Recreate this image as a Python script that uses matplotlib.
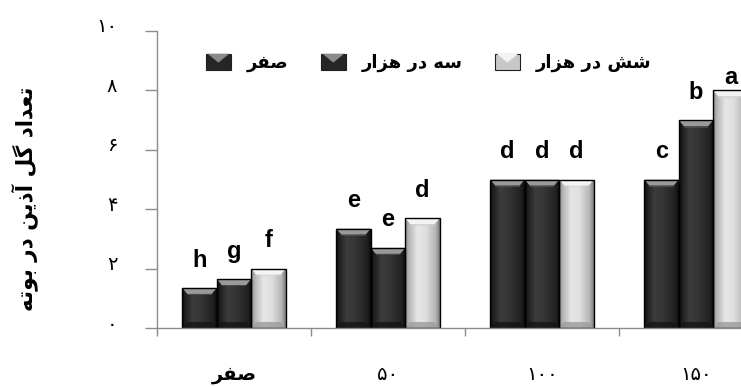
import matplotlib
matplotlib.use("Agg")
import matplotlib.pyplot as plt
import matplotlib.transforms as mtransforms
import numpy as np
from matplotlib.patches import Polygon, Patch, Rectangle
from matplotlib.legend_handler import HandlerPatch

# ---- data -------------------------------------------------------------
groups = ["صفر", "۵۰", "۱۰۰", "۱۵۰"]
series_names = ["صفر", "سه در هزار", "شش در هزار"]
values_zero = [1.35, 3.35, 5.0, 5.0]
values_three = [1.65, 2.7, 5.0, 7.0]
values_six = [2.0, 3.7, 5.0, 8.0]
letters_zero = ["h", "e", "d", "c"]
letters_three = ["g", "e", "d", "b"]
letters_six = ["f", "d", "d", "a"]
y_ticks = [0, 2, 4, 6, 8, 10]
y_tick_labels = ["۰", "۲", "۴", "۶", "۸", "۱۰"]
y_title = "تعداد گل آذین در بوته"

# ---- simple Persian shaping (presentation forms + visual order) ---------
FORMS = {  # iso, fin, ini, med  (right-joining letters only iso, fin)
    "ص": "\uFEB9\uFEBA\uFEBB\uFEBC", "ف": "\uFED1\uFED2\uFED3\uFED4",
    "س": "\uFEB1\uFEB2\uFEB3\uFEB4", "ه": "\uFEE9\uFEEA\uFEEB\uFEEC",
    "ش": "\uFEB5\uFEB6\uFEB7\uFEB8", "ت": "\uFE95\uFE96\uFE97\uFE98",
    "ع": "\uFEC9\uFECA\uFECB\uFECC", "گ": "\uFB92\uFB93\uFB94\uFB95",
    "ل": "\uFEDD\uFEDE\uFEDF\uFEE0", "ی": "\uFBFC\uFBFD\uFBFE\uFBFF",
    "ن": "\uFEE5\uFEE6\uFEE7\uFEE8", "ب": "\uFE8F\uFE90\uFE91\uFE92",
    "ر": "\uFEAD\uFEAE", "د": "\uFEA9\uFEAA", "ز": "\uFEAF\uFEB0",
    "ا": "\uFE8D\uFE8E", "آ": "\uFE81\uFE82", "ذ": "\uFEAB\uFEAC",
    "و": "\uFEED\uFEEE",
}


def shape(text):
    """Join Persian letters and put them in visual order; digits stay LTR."""
    if not any(ch in FORMS for ch in text):
        return text
    out = []
    for i, ch in enumerate(text):
        f = FORMS.get(ch)
        if f is None:
            out.append(ch)
            continue
        prev = text[i - 1] if i > 0 else ""
        nxt = text[i + 1] if i + 1 < len(text) else ""
        join_prev = prev in FORMS and len(FORMS[prev]) == 4
        join_next = len(f) == 4 and nxt in FORMS
        if join_prev and join_next:
            out.append(f[3])
        elif join_prev:
            out.append(f[1])
        elif join_next:
            out.append(f[2])
        else:
            out.append(f[0])
    return "".join(out)[::-1]


plt.rcParams["font.family"] = ["DejaVu Sans"]

W, H, DPI = 741, 387, 100
fig = plt.figure(figsize=(W / DPI, H / DPI), dpi=DPI)
ax_left, ax_right, ax_bottom, ax_top = 157, 741, 328, 31
ax = fig.add_axes([ax_left / W, (H - ax_bottom) / H,
                   (ax_right - ax_left) / W, (ax_bottom - ax_top) / H])

unit_px = 154.0
ax.set_xlim(-0.5, -0.5 + (ax_right - ax_left) / unit_px)
ax.set_ylim(0, 10)

x = np.arange(len(groups))
bw = 0.224
series = [values_zero, values_three, values_six]
letters = [letters_zero, letters_three, letters_six]

# horizontal shading profiles for the bevelled bars
dark_profile = [(0.0, "#0c0c0c"), (0.08, "#1e1e1e"), (0.3, "#3c3c3c"),
                (0.55, "#353535"), (0.88, "#222222"), (1.0, "#0e0e0e")]
light_profile = [(0.0, "#8a8a8a"), (0.1, "#b4b4b4"), (0.35, "#e6e6e6"),
                 (0.6, "#dedede"), (0.88, "#b6b6b6"), (1.0, "#7e7e7e")]
styles = [
    dict(profile=dark_profile, top="#9a9a9a", top2="#5a5a5a", bottom="#151515"),
    dict(profile=dark_profile, top="#9a9a9a", top2="#5a5a5a", bottom="#151515"),
    dict(profile=light_profile, top="#f4f4f4", top2="#d0d0d0", bottom="#9c9c9c"),
]


def profile_image(profile, n=64):
    pos = np.linspace(0, 1, n)
    stops = [p for p, _ in profile]
    rgb = np.array([matplotlib.colors.to_rgb(c) for _, c in profile])
    img = np.stack([np.interp(pos, stops, rgb[:, k]) for k in range(3)], axis=-1)
    return img[np.newaxis, :, :]


px_x = (ax.get_xlim()[1] - ax.get_xlim()[0]) / (ax_right - ax_left)
px_y = 10.0 / (ax_bottom - ax_top)

for k, (vals, st) in enumerate(zip(series, styles)):
    bars = ax.bar(x + (k - 1) * bw, vals, width=bw, color="none",
                  edgecolor="#000000", linewidth=1.0, zorder=3)
    img = profile_image(st["profile"])
    for rect in bars:
        x0, y0 = rect.get_x(), rect.get_y()
        w, h = rect.get_width(), rect.get_height()
        im = ax.imshow(img, extent=[x0, x0 + w, y0, y0 + h], aspect="auto",
                       interpolation="bilinear", zorder=2)
        im.set_clip_path(rect)
        # top bevel
        bh = 6 * px_y
        ins = 5 * px_x
        ax.add_patch(Polygon([(x0, y0 + h), (x0 + w, y0 + h),
                              (x0 + w - ins, y0 + h - bh), (x0 + ins, y0 + h - bh)],
                             closed=True, facecolor=st["top"], edgecolor="none",
                             zorder=2.5))
        ax.add_patch(Polygon([(x0 + ins, y0 + h - bh), (x0 + w - ins, y0 + h - bh),
                              (x0 + w - ins, y0 + h - bh - 1.5 * px_y),
                              (x0 + ins, y0 + h - bh - 1.5 * px_y)],
                             closed=True, facecolor=st["top2"], edgecolor="none",
                             alpha=0.6, zorder=2.5))
        # bottom bevel
        ax.add_patch(Polygon([(x0, y0), (x0 + w, y0),
                              (x0 + w - ins, y0 + bh), (x0 + ins, y0 + bh)],
                             closed=True, facecolor=st["bottom"], edgecolor="none",
                             alpha=0.8, zorder=2.5))
    for xi, v, lab in zip(x + (k - 1) * bw, vals, letters[k]):
        ax.text(xi, min(v + 0.55, 8.05), lab, ha="center", va="bottom",
                fontsize=17, fontweight="bold", family="Liberation Sans",
                color="#000000", zorder=4)

# ---- axes styling -----------------------------------------------------
for s in ["top", "right"]:
    ax.spines[s].set_visible(False)
for s in ["left", "bottom"]:
    ax.spines[s].set_color("#8c8c8c")
    ax.spines[s].set_linewidth(1.0)
    ax.spines[s].set_zorder(5)

ax.set_yticks(y_ticks)
ax.set_yticklabels(y_tick_labels)
ax.tick_params(axis="y", direction="out", length=8.5, width=1.0,
               color="#8c8c8c", pad=20, labelsize=14)
for lab in ax.get_yticklabels():
    lab.set_transform(lab.get_transform() +
                      mtransforms.ScaledTranslation(0, 6 / 100, fig.dpi_scale_trans))

ax.set_xticks(x)
ax.set_xticklabels([shape(g) for g in groups])
ax.tick_params(axis="x", which="major", length=0, pad=27, labelsize=14)
ax.set_xticks(np.arange(len(groups)) - 0.5, minor=True)
ax.tick_params(axis="x", which="minor", direction="out", length=5.5, width=1.0,
               color="#8c8c8c")
ax.get_xticklabels()[0].set_fontweight("bold")

fig.text(25 / W, 1 - 199 / H, shape(y_title), rotation=90, ha="center",
         va="center", fontsize=15.5, fontweight="bold")


# ---- legend -------------------------------------------------------------
class BevelHandler(HandlerPatch):
    def create_artists(self, legend, orig_handle, xdescent, ydescent,
                       width, height, fontsize, trans):
        base = Rectangle((-xdescent, -ydescent), width, height,
                         facecolor=orig_handle.get_facecolor(),
                         edgecolor="#202020", linewidth=0.8, transform=trans)
        top = Polygon([(-xdescent + 1, -ydescent + height),
                       (-xdescent + width - 1, -ydescent + height),
                       (-xdescent + width / 2, -ydescent + height * 0.45)],
                      closed=True, facecolor=orig_handle.get_edgecolor(),
                      edgecolor="none", transform=trans)
        return [base, top]


handles = [Patch(facecolor="#262626", edgecolor="#8a8a8a"),
           Patch(facecolor="#262626", edgecolor="#8a8a8a"),
           Patch(facecolor="#c8c8c8", edgecolor="#f2f2f2")]
leg = fig.legend(handles, [shape(n) for n in series_names], ncol=3,
                 loc="center left", bbox_to_anchor=(190 / W, 1 - 63 / H),
                 frameon=False, handlelength=1.35,
                 handleheight=1.0, handletextpad=0.9, columnspacing=1.8,
                 prop={"size": 13, "weight": "bold"},
                 handler_map={Patch: BevelHandler()})

fig.savefig("out.png", dpi=DPI)
